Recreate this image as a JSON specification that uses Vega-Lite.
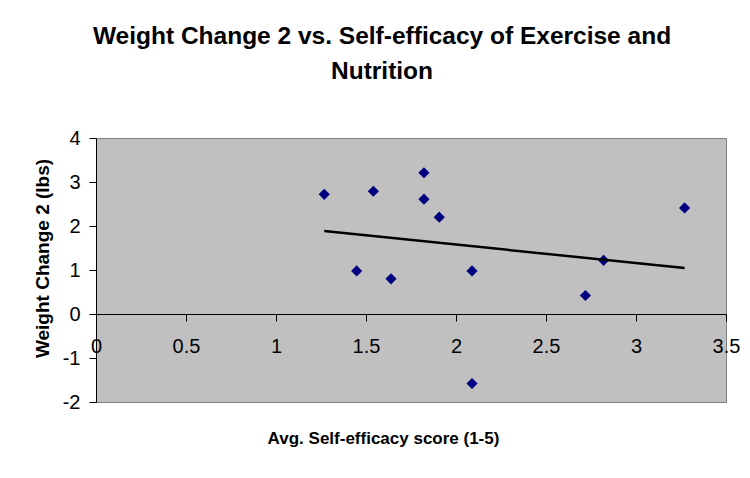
{
  "$schema": "https://vega.github.io/schema/vega-lite/v6.json",
  "width": 630,
  "height": 264,
  "autosize": {"type": "none"},
  "padding": {"left": 96, "top": 138, "right": 24, "bottom": 76},
  "background": "white",
  "title": {
    "text": ["Weight Change 2 vs. Self-efficacy of Exercise and", "Nutrition"],
    "font": "Liberation Sans",
    "fontSize": 24.5,
    "fontWeight": "bold",
    "color": "black",
    "lineHeight": 35,
    "anchor": "middle",
    "frame": "group",
    "dx": -29,
    "offset": 44
  },
  "config": {
    "view": {"fill": "#C0C0C0", "stroke": "#808080", "strokeWidth": 1},
    "axis": {"grid": false, "labelFont": "Liberation Sans", "titleFont": "Liberation Sans", "labelColor": "black", "titleColor": "black", "domainColor": "black", "tickColor": "black"}
  },
  "data": {
    "values": [
      {"score": 1.268, "change": 2.72},
      {"score": 1.541, "change": 2.79},
      {"score": 1.448, "change": 0.98},
      {"score": 1.639, "change": 0.80},
      {"score": 1.822, "change": 3.21},
      {"score": 1.822, "change": 2.61},
      {"score": 1.907, "change": 2.20},
      {"score": 2.089, "change": 0.98},
      {"score": 2.089, "change": -1.58},
      {"score": 2.719, "change": 0.42},
      {"score": 2.820, "change": 1.22},
      {"score": 3.270, "change": 2.41}
    ]
  },
  "encoding": {
    "x": {
      "field": "score", "type": "quantitative",
      "scale": {"domain": [0, 3.5], "nice": false, "zero": false},
      "axis": {
        "title": "Avg. Self-efficacy score (1-5)",
        "values": [0, 0.5, 1, 1.5, 2, 2.5, 3, 3.5],
        "labelExpr": "'' + datum.value",
        "offset": -88,
        "labelFontSize": 20,
        "labelPadding": 15,
        "labelFlush": false,
        "labelOverlap": false,
        "labelBound": false,
        "tickSize": 7,
        "titleFontSize": 17,
        "titleFontWeight": "bold",
        "titleX": 287,
        "titleY": 124,
        "titleBaseline": "middle",
        "titleAnchor": "middle"
      }
    },
    "y": {
      "field": "change", "type": "quantitative",
      "scale": {"domain": [-2, 4], "nice": false, "zero": false},
      "axis": {
        "title": "Weight Change 2 (lbs)",
        "values": [-2, -1, 0, 1, 2, 3, 4],
        "labelExpr": "'' + datum.value",
        "labelFontSize": 20,
        "labelPadding": 9,
        "tickSize": 7,
        "labelFlush": false,
        "labelOverlap": false,
        "titleFontSize": 19,
        "titleFontWeight": "bold",
        "titleX": -54,
        "titleY": 120,
        "titleBaseline": "middle",
        "titleAnchor": "middle",
        "titleAngle": -90
      }
    }
  },
  "layer": [
    {
      "mark": {"type": "point", "shape": "diamond", "filled": true, "color": "#000080", "size": 125, "opacity": 1}
    },
    {
      "transform": [{"regression": "change", "on": "score"}],
      "mark": {"type": "line", "color": "black", "strokeWidth": 2.5}
    }
  ]
}
